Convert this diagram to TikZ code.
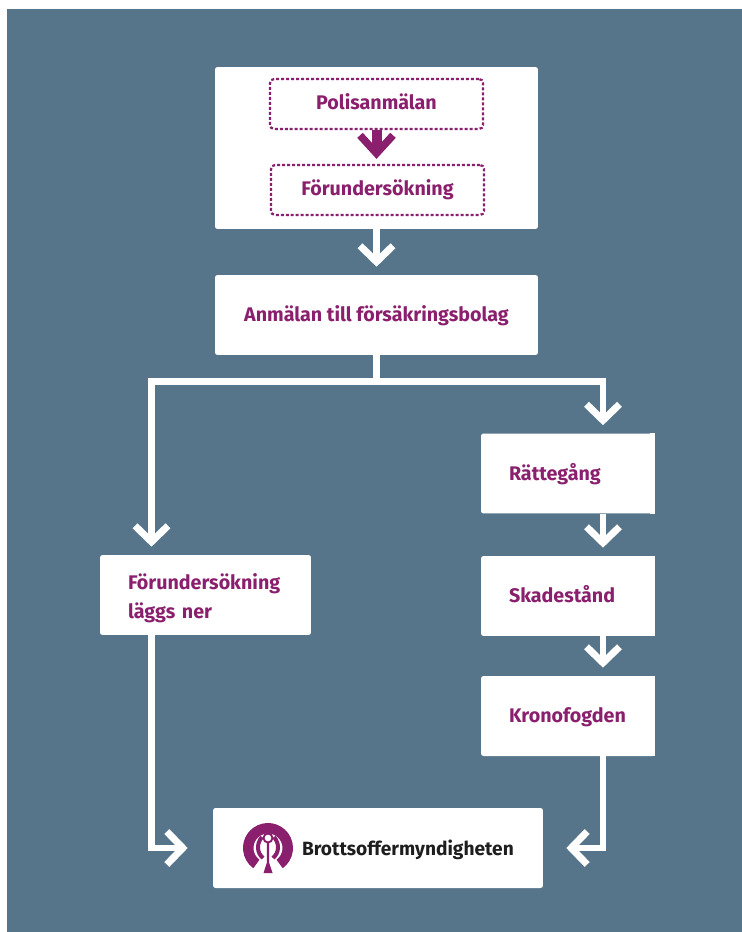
\documentclass[tikz,border=0pt]{standalone}
\usepackage{fontspec}
\setmainfont{Fira Sans}
\usetikzlibrary{arrows.meta}
\definecolor{panelblue}{HTML}{56758B}
\definecolor{plum}{HTML}{8A1F6E}
\definecolor{logoink}{HTML}{1E1E1E}
\tikzset{
	card/.style={fill=white,rounded corners=0.05cm,inner sep=0pt,text=plum,text height=0.3cm,text depth=0.04cm,font=\bfseries\fontsize{11.2}{16}\selectfont},
	leftcard/.style={card,minimum width=3.48cm,minimum height=1.6cm,align=left,text width=2.36cm},
	dotbox/.style={draw=plum,line width=0.045cm,dash pattern=on 0.06cm off 0.04cm,rounded corners=0.08cm,minimum width=4.26cm,minimum height=1cm,inner sep=0pt,text=plum,text height=0.28cm,text depth=0.06cm,font=\bfseries\fontsize{11.2}{16}\selectfont},
	flow/.style={draw=white,line width=0.13cm,shorten >=0.16cm,-{Straight Barb[length=0.32cm,width=0.66cm,line width=0.14cm]}},
	plain/.style={draw=white,line width=0.13cm},
}
\begin{document}
\begin{tikzpicture}[x=0.02cm,y=-0.02cm]
	\useasboundingbox (0,0) rectangle (742,932);
	\fill[panelblue] (7,9) rectangle (742,932);

	% Cards
	\node[card,minimum width=6.46cm,minimum height=3.24cm] (top) at (376.5,148) {};
	\node[dotbox] (polis) at (376.5,104) {Polisanmälan};
	\node[dotbox] (utredning) at (377.5,190) {Förundersökning};
	\node[card,minimum width=6.46cm,minimum height=1.6cm] (anmalan) at (376.5,315) {Anmälan till försäkringsbolag};
	\node[leftcard] (ratt) at (568,473.5) {Rättegång};
	\node[leftcard] (skada) at (568,596) {Skadestånd};
	\node[leftcard] (krono) at (568,716) {Kronofogden};
	\node[card,minimum width=4.22cm,minimum height=1.6cm,align=left,text width=3.1cm,text depth=0.54cm] (nedlagd) at (205.5,595) {Förundersökning\\[0.02cm]läggs ner};
	\node[card,minimum width=6.6cm,minimum height=1.6cm] (brott) at (378,848) {};
	\node[anchor=west,inner sep=0pt,text=logoink,font=\bfseries\fontsize{10.9}{15}\selectfont] (brottnamn) at ([xshift=1.78cm,yshift=-0.04cm]brott.west) {Brottsoffermyndigheten};

	% Square right edges
	\foreach \c in {ratt,skada,krono}{
		\fill[white] ([xshift=-0.1cm]\c.north east) rectangle ([yshift=-0.1cm]\c.north east);
		\fill[white] ([xshift=-0.1cm]\c.south east) rectangle ([yshift=0.1cm]\c.south east);
	}

	% Logo
	\begin{scope}[shift={(268,848)},yscale=-1]
		\fill[plum] (-54:25) arc (-54:234:25) -- (234:14.5) arc (234:-54:14.5) -- cycle;
		\fill[plum] (0,10) circle (5.5);
		\fill[white] (0,10) circle (3.3);
		\draw[plum,line width=0.08cm] (-6,11) .. controls (-12,4) and (-11,-5) .. (-5,-10);
		\draw[plum,line width=0.08cm] (6,11) .. controls (12,4) and (11,-5) .. (5,-10);
		\fill[plum] (-1.2,6) -- (1.2,6) -- (1.2,-15) -- (4.5,-25) -- (-4.5,-25) -- (-1.2,-15) -- cycle;
	\end{scope}

	% Arrows
	\draw[draw=plum,line width=0.2cm,shorten >=0.1cm,-{Straight Barb[length=0.36cm,width=0.66cm,line width=0.15cm]}] (polis.south) -- (polis.south |- utredning.north);
	\draw[flow] (top.south) -- (anmalan.north);
	\coordinate (branch) at ([yshift=-0.52cm]anmalan.south);
	\coordinate (rattin) at ([xshift=0.7cm]ratt.north);
	\coordinate (nedin) at ([xshift=-1.08cm]nedlagd.north);
	\draw[plain] (anmalan.south) -- (branch);
	\draw[flow] (branch) -| (rattin);
	\draw[flow] (branch) -| (nedin);
	\draw[flow] ([xshift=0.7cm]ratt.south) -- ([xshift=0.7cm]skada.north);
	\draw[flow] ([xshift=0.7cm]skada.south) -- ([xshift=0.7cm]krono.north);
	\draw[flow] ([xshift=-1.08cm]nedlagd.south) |- ([xshift=-0.34cm]brott.west);
	\draw[flow] ([xshift=0.7cm]krono.south) |- ([xshift=0.3cm]brott.east);
\end{tikzpicture}
\end{document}
